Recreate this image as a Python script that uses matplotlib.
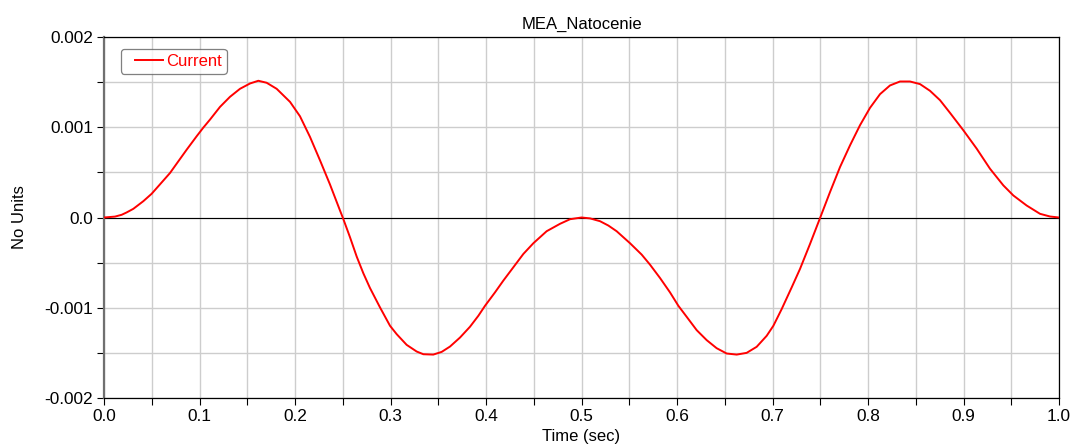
import matplotlib
matplotlib.use("Agg")
import matplotlib.pyplot as plt
from matplotlib.ticker import MultipleLocator
from matplotlib.lines import Line2D
from matplotlib.legend_handler import HandlerLine2D

plt.rcParams['font.family'] = ['Liberation Sans', 'DejaVu Sans']

time_sec = [0.0, 0.0115, 0.0185, 0.0237, 0.0307, 0.0412, 0.0499, 0.0586, 0.0691, 0.0778,
            0.0866, 0.0970, 0.1040, 0.1110, 0.1215, 0.1319, 0.1424, 0.1529, 0.1616, 0.1703,
            0.1808, 0.1948, 0.2052, 0.2157, 0.2262, 0.2366, 0.2471,
            0.2500, 0.2576, 0.2646, 0.2716, 0.2785, 0.2890, 0.2995, 0.3065, 0.3169, 0.3274,
            0.3344, 0.3448, 0.3536, 0.3623, 0.3728, 0.3832, 0.3920, 0.3990, 0.4094, 0.4181,
            0.4286, 0.4391, 0.4496, 0.4635, 0.4775, 0.4880, 0.5000,
            0.5090, 0.5194, 0.5281, 0.5368, 0.5508, 0.5630, 0.5717, 0.5822, 0.5927, 0.6014,
            0.6101, 0.6206, 0.6311, 0.6415, 0.6520, 0.6625, 0.6729, 0.6834, 0.6939, 0.7009,
            0.7096, 0.7201, 0.7288, 0.7393, 0.7500,
            0.7602, 0.7707, 0.7812, 0.7916, 0.8021, 0.8126, 0.8230, 0.8335, 0.8440, 0.8545,
            0.8649, 0.8754, 0.8859, 0.8998, 0.9138, 0.9277, 0.9417, 0.9522, 0.9661, 0.9801,
            0.9906, 1.0]
current = [0.0, 0.00001, 0.00003, 0.000056, 0.000096, 0.000181, 0.000263, 0.000367, 0.000493, 0.000622,
           0.000752, 0.0009, 0.000996, 0.001085, 0.001226, 0.001337, 0.001426, 0.001485, 0.001515, 0.001493,
           0.001426, 0.001281, 0.001122, 0.000893, 0.000633, 0.000367, 0.000078,
           0.0, -0.000219, -0.000433, -0.000619, -0.000781, -0.000996, -0.0012, -0.001293, -0.001411, -0.001485,
           -0.001515, -0.001519, -0.001489, -0.00143, -0.00133, -0.001211, -0.001089, -0.000978, -0.00083, -0.0007,
           -0.000552, -0.000404, -0.000285, -0.000152, -0.00007, -0.000019, 0.0,
           -0.00001, -0.000041, -0.000089, -0.000152, -0.000285, -0.000411, -0.000522, -0.00067, -0.00083, -0.000978,
           -0.0011, -0.001248, -0.001359, -0.001448, -0.001507, -0.001519, -0.0015, -0.001433, -0.001311, -0.0012,
           -0.001015, -0.000774, -0.00057, -0.000293, 0.0,
           0.000281, 0.000559, 0.0008, 0.001022, 0.001215, 0.001367, 0.001463, 0.001507, 0.001507, 0.001478,
           0.001404, 0.0013, 0.001159, 0.000967, 0.000763, 0.000541, 0.000356, 0.000244, 0.000133, 0.000041,
           0.000011, 0.0]

x_ticks = [0.0, 0.1, 0.2, 0.3, 0.4, 0.5, 0.6, 0.7, 0.8, 0.9, 1.0]
y_ticks = [-0.002, -0.001, 0.0, 0.001, 0.002]
y_ticklabels = ["-0.002", "-0.001", "0.0", "0.001", "0.002"]

fig = plt.figure(figsize=(10.71, 4.45), dpi=100)
ax = fig.add_axes([104/1071, 1 - 398/445, (1059 - 104)/1071, (398 - 37)/445])

ax.plot(time_sec, current, color='red', lw=1.4, label='Current', zorder=3)
ax.axhline(0, color='black', lw=0.8, zorder=2)

ax.set_xlim(0, 1.0)
ax.set_ylim(-0.002, 0.002)
ax.set_xticks(x_ticks)
ax.set_xticklabels([f"{v:.1f}" for v in x_ticks])
ax.set_yticks(y_ticks)
ax.set_yticklabels(y_ticklabels)
ax.xaxis.set_minor_locator(MultipleLocator(0.05))
ax.yaxis.set_minor_locator(MultipleLocator(0.0005))

ax.grid(True, which='both', color='#cdcdcd', lw=1.0, zorder=0)
ax.set_axisbelow(True)
ax.tick_params(which='both', direction='out', length=5, width=0.8, labelsize=12.4,
               colors='black', pad=3)
for s in ax.spines.values():
    s.set_color('black')
    s.set_linewidth(0.9)
ax.spines['left'].set_color('#707070')
ax.spines['left'].set_linewidth(1.6)

ax.set_title('MEA_Natocenie', fontsize=12, pad=6)
ax.set_xlabel('Time (sec)', fontsize=12, labelpad=3.5)
ax.set_ylabel('No Units', fontsize=12, labelpad=12)

leg = ax.legend(loc='upper left', bbox_to_anchor=(0.0175, 0.9676), fontsize=12,
                frameon=True, fancybox=True, edgecolor='#606060', handlelength=2.23,
                handletextpad=0.18, borderpad=0.3, borderaxespad=0,
                handler_map={Line2D: HandlerLine2D(xpad=0.56)})
leg.get_frame().set_linewidth(0.9)
for t in leg.get_texts():
    t.set_color('red')

fig.savefig('out.png', dpi=100)
